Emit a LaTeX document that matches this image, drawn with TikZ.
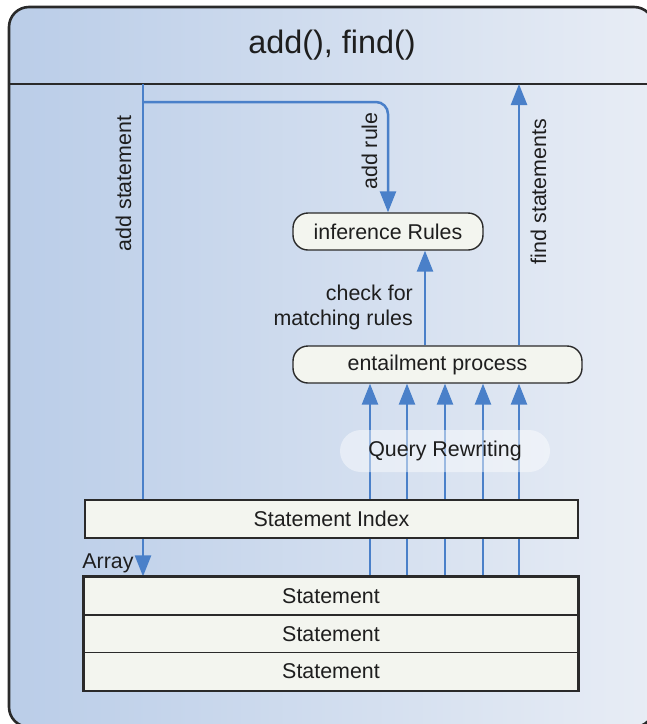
\documentclass[tikz,border=0pt]{standalone}
\usepackage{fontspec}
\setmainfont{Liberation Sans}
\usetikzlibrary{arrows.meta}
\definecolor{bgL}{HTML}{BACDE8}
\definecolor{bgR}{HTML}{E8EDF5}
\definecolor{flowblue}{HTML}{4A80C9}
\definecolor{boxfill}{HTML}{F3F5EF}
\definecolor{edge}{HTML}{2A2A2A}
\definecolor{ink}{HTML}{1E1E1E}
\newcommand\lblfont{\fontsize{21.4}{25}\selectfont}
\newcommand\headfont{\fontsize{32.4}{38}\selectfont}
\pgfdeclarelayer{back}
\pgfdeclarelayer{flows}
\pgfsetlayers{back,flows,main}
\begin{document}
\begin{tikzpicture}[x=1pt,y=-1pt,
  flow/.style={draw=flowblue,line width=2.5pt,-{Triangle[width=16pt,length=21pt]}},
  lbl/.style={font=\lblfont,text=ink,inner sep=0pt},
  roundbox/.style={lbl,draw=edge,line width=1.4pt,fill=boxfill,rounded corners=15pt,minimum height=37pt},
  flatbox/.style={lbl,draw=edge,line width=1.4pt,fill=boxfill,minimum height=38pt},
  rowbox/.style={lbl,draw=edge,line width=1.4pt,fill=boxfill,minimum height=37.7pt,minimum width=494pt}]

\useasboundingbox (0,0) rectangle (647,724);

% outer frame with header band
\begin{pgfonlayer}{back}
  \begin{scope}
    \clip (0,0) rectangle (647,724);
    \shade[left color=bgL,right color=bgR,rounded corners=20pt] (9,7) rectangle (654,727);
    \draw[edge,line width=2.6pt,rounded corners=20pt] (9,7) rectangle (654,727);
    \draw[edge,line width=2.2pt] (9,84) coordinate (hl) -- (654,84) coordinate (hr);
  \end{scope}
\end{pgfonlayer}

\node[lbl,font=\headfont] (title) at (332,45) {add(), find()};

% boxes
\node[roundbox,minimum width=190pt] (inf) at (388,231.5) {inference Rules};
\node[roundbox,minimum width=289pt] (ent) at (437.5,364.5) {entailment process};
\node[flatbox,minimum width=493pt] (idx) at (331.5,519) {Statement Index};
\node[rowbox] (s1) at (331,596) {Statement};
\node[rowbox] (s2) at (331,633.7) {Statement};
\node[rowbox] (s3) at (331,671.4) {Statement};
\draw[edge,line width=2.6pt] (s1.north west) rectangle (s3.south east);

% anchor columns for the connectors
\coordinate (as) at (143,84);
\coordinate (br) at (143,102);
\coordinate (ck) at (425,0);
\coordinate (fs) at (519,84);
\coordinate (q1) at (370,0);
\coordinate (q2) at (407,0);
\coordinate (q3) at (445,0);
\coordinate (q4) at (483,0);
\coordinate (q5) at (519,0);

\begin{pgfonlayer}{flows}
  \draw[flow] (as) -- (as |- s1.north);
  \draw[flow,rounded corners=12pt] (br) -| (inf.north);
  \draw[flow] (ck |- ent.north) -- (ck |- inf.south);
  \draw[flow] (fs |- ent.north) -- (fs);
  \foreach \q in {q1,q2,q3,q4,q5}
    \draw[flow] (\q |- s1.north) -- (\q |- ent.south);
\end{pgfonlayer}

% translucent band over the query columns
\node[lbl,fill=white,fill opacity=0.45,text opacity=1,rounded corners=21pt,
      minimum width=210pt,minimum height=42pt] (qr) at (445,451) {Query Rewriting};

% labels
\node[lbl,rotate=90] (lasl) at (123.5,183.5) {add statement};
\node[lbl,rotate=90] (larl) at (369.5,151) {add rule};
\node[lbl,rotate=90] (lfs) at (538.5,191.5) {find statements};
\node[lbl,align=right,anchor=east] (lck) at (413,307) {check for\\matching rules};
\node[lbl] (arr) at (108,563) {Array};
\end{tikzpicture}
\end{document}
